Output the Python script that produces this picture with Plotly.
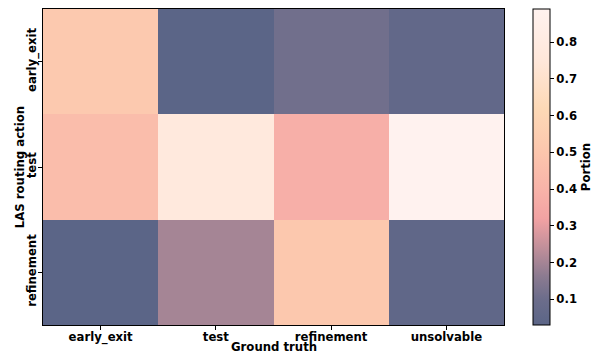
import plotly.graph_objects as go

# Routing action (rows) vs. ground-truth class (columns), column-normalised portions
actions = ["early_exit", "test", "refinement"]
ground_truth = ["early_exit", "test", "refinement", "unsolvable"]
portion_early_exit = [0.52, 0.03, 0.11, 0.06]
portion_test = [0.45, 0.77, 0.38, 0.89]
portion_refinement = [0.03, 0.20, 0.51, 0.05]
cbar_ticks = [0.1, 0.2, 0.3, 0.4, 0.5, 0.6, 0.7, 0.8]

z = [portion_early_exit, portion_test, portion_refinement]
zmin = min(min(r) for r in z)
zmax = max(max(r) for r in z)

# slate -> mauve -> salmon -> peach -> cream
stops = [
    (0.03, "#5b6587"),
    (0.10, "#6c6d8b"),
    (0.16, "#8a7a90"),
    (0.24, "#c08f9a"),
    (0.32, "#f2a2a3"),
    (0.40, "#f8b3a9"),
    (0.50, "#fcc6ad"),
    (0.62, "#fdd9b6"),
    (0.75, "#ffe7da"),
    (0.89, "#fff2ef"),
]
colorscale = []
for v, c in stops:
    t = (v - zmin) / (zmax - zmin)
    colorscale.append([min(max(t, 0.0), 1.0), c])
colorscale[0][0] = 0.0
colorscale[-1][0] = 1.0

font_family = "DejaVu Sans"
bold = dict(family=font_family, size=11.7, color="black", weight="bold")

W, H = 602, 354
ML, MR, MT, MB = 43, 95, 9, 29
plot_w = W - ML - MR
plot_h = H - MT - MB

fig = go.Figure(
    go.Heatmap(
        z=z,
        x=ground_truth,
        y=actions,
        zmin=zmin,
        zmax=zmax,
        colorscale=colorscale,
        colorbar=dict(
            title=dict(text="Portion", side="right", font=bold),
            tickvals=cbar_ticks,
            tickformat=".1f",
            tickprefix="\u00a0",
            tickfont=bold,
            ticks="outside",
            ticklen=4,
            tickcolor="black",
            thickness=17,
            len=1.0,
            lenmode="fraction",
            y=0.5,
            yanchor="middle",
            x=(536 - ML) / plot_w,
            xanchor="left",
            xpad=0,
            ypad=0,
            outlinewidth=1,
            outlinecolor="black",
        ),
    )
)

fig.update_layout(
    width=W,
    height=H,
    margin=dict(l=ML, r=MR, t=MT, b=MB),
    paper_bgcolor="white",
    plot_bgcolor="white",
    font=dict(family=font_family, size=11.7, color="black"),
    annotations=[
        dict(
            text="Ground truth",
            xref="paper", yref="paper",
            x=0.5, y=-(347 - (H - MB)) / plot_h,
            xanchor="center", yanchor="middle",
            showarrow=False, font=bold,
        ),
        dict(
            text="LAS routing action",
            xref="paper", yref="paper",
            x=-(ML - 20) / plot_w, y=0.5,
            xanchor="center", yanchor="middle",
            textangle=-90,
            showarrow=False, font=bold,
        ),
    ],
)
axis_style = dict(
    tickfont=bold,
    ticks="outside",
    ticklen=4,
    tickcolor="black",
    showline=True,
    linecolor="black",
    linewidth=1,
    mirror=True,
    showgrid=False,
    automargin=False,
    ticklabelstandoff=-3,
)
fig.update_xaxes(**axis_style)
fig.update_yaxes(**axis_style, tickangle=-90, autorange="reversed")

fig.write_html("out.html")
